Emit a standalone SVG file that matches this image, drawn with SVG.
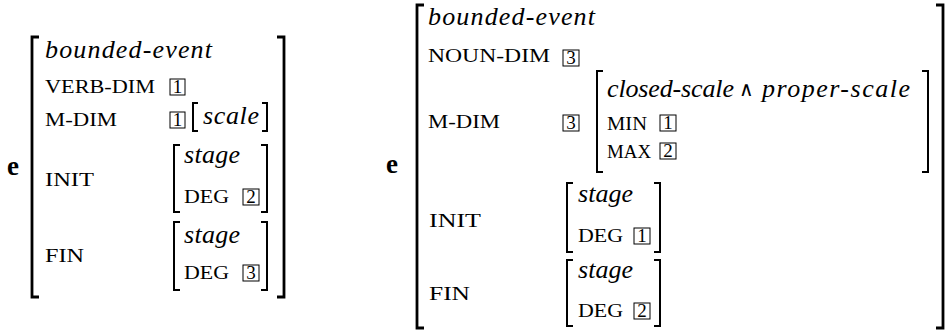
<svg xmlns="http://www.w3.org/2000/svg" width="946" height="331" viewBox="0 0 946 331">
<style>
text{font-family:"Liberation Serif","Times New Roman",serif;fill:#000}
.it{font-style:italic;font-size:26px}
.sc{font-size:19px}
.n{font-size:19px;text-anchor:middle}
.e{font-weight:bold;font-size:27px}
.w{font-family:"DejaVu Serif",serif;font-size:20px}
.ob{fill:none;stroke:#000;stroke-width:2.8}
.ib{fill:none;stroke:#000;stroke-width:2}
.bx{fill:none;stroke:#000;stroke-width:1}
</style>
<rect width="946" height="331" fill="#fff"/>
<g id="avm-left">
<text class="e" x="7" y="175">e</text>
<path class="ob" d="M39,37 H32 V297 H39"/>
<path class="ob" d="M277,37 H284 V297 H277"/>
<text class="it" x="45" y="58" textLength="167">bounded-event</text>
<text class="sc" x="45" y="93" textLength="110" lengthAdjust="spacingAndGlyphs">VERB-DIM</text>
<rect class="bx" x="170" y="79" width="15" height="16"/><text class="n" x="177.5" y="93">1</text>
<text class="sc" x="45" y="126" textLength="72" lengthAdjust="spacingAndGlyphs">M-DIM</text>
<rect class="bx" x="170" y="112" width="15" height="16"/><text class="n" x="177.5" y="126">1</text>
<path class="ib" d="M198,103 H193 V131 H198"/>
<text class="it" x="203" y="124" textLength="56">scale</text>
<path class="ib" d="M262,103 H267 V131 H262"/>
<text class="sc" x="45" y="186" textLength="49" lengthAdjust="spacingAndGlyphs">INIT</text>
<path class="ib" d="M180,145 H174 V212 H180"/>
<path class="ib" d="M261,145 H267 V212 H261"/>
<text class="it" x="184" y="163" textLength="56">stage</text>
<text class="sc" x="184" y="203" textLength="45" lengthAdjust="spacingAndGlyphs">DEG</text>
<rect class="bx" x="243" y="189" width="16" height="16"/><text class="n" x="251" y="203">2</text>
<text class="sc" x="45" y="262" textLength="39" lengthAdjust="spacingAndGlyphs">FIN</text>
<path class="ib" d="M180,222 H174 V290 H180"/>
<path class="ib" d="M261,222 H267 V290 H261"/>
<text class="it" x="184" y="243" textLength="56">stage</text>
<text class="sc" x="184" y="279" textLength="45" lengthAdjust="spacingAndGlyphs">DEG</text>
<rect class="bx" x="243" y="265" width="16" height="16"/><text class="n" x="251" y="279">3</text>
</g>
<g id="avm-right">
<text class="e" x="386" y="173">e</text>
<path class="ob" d="M424,5 H417 V328 H424"/>
<path class="ob" d="M936,5 H943 V328 H936"/>
<text class="it" x="428" y="25" textLength="167">bounded-event</text>
<text class="sc" x="428" y="62" textLength="122" lengthAdjust="spacingAndGlyphs">NOUN-DIM</text>
<rect class="bx" x="563" y="50" width="16" height="16"/><text class="n" x="571" y="64">3</text>
<text class="sc" x="428" y="128" textLength="72" lengthAdjust="spacingAndGlyphs">M-DIM</text>
<rect class="bx" x="563" y="115" width="16" height="16"/><text class="n" x="571" y="129">3</text>
<path class="ib" d="M603,71 H597 V172 H603"/>
<path class="ib" d="M922,71 H928 V172 H922"/>
<text class="it" x="607" y="97" textLength="127">closed-scale</text>
<text class="w" x="739" y="96">∧</text>
<text class="it" x="762" y="97" textLength="148">proper-scale</text>
<text class="sc" x="607" y="130" textLength="40" lengthAdjust="spacingAndGlyphs">MIN</text>
<rect class="bx" x="660" y="115" width="16" height="16"/><text class="n" x="668" y="129">1</text>
<text class="sc" x="607" y="158" textLength="44" lengthAdjust="spacingAndGlyphs">MAX</text>
<rect class="bx" x="660" y="143" width="16" height="16"/><text class="n" x="668" y="157">2</text>
<text class="sc" x="429" y="227" textLength="52" lengthAdjust="spacingAndGlyphs">INIT</text>
<path class="ib" d="M573,183 H567 V252 H573"/>
<path class="ib" d="M654,183 H660 V252 H654"/>
<text class="it" x="578" y="202" textLength="55">stage</text>
<text class="sc" x="578" y="242" textLength="45" lengthAdjust="spacingAndGlyphs">DEG</text>
<rect class="bx" x="634" y="228" width="16" height="16"/><text class="n" x="642" y="242">1</text>
<text class="sc" x="429" y="300" textLength="41" lengthAdjust="spacingAndGlyphs">FIN</text>
<path class="ib" d="M573,260 H567 V326 H573"/>
<path class="ib" d="M654,260 H660 V326 H654"/>
<text class="it" x="578" y="278" textLength="55">stage</text>
<text class="sc" x="578" y="317" textLength="45" lengthAdjust="spacingAndGlyphs">DEG</text>
<rect class="bx" x="634" y="303" width="16" height="16"/><text class="n" x="642" y="317">2</text>
</g>
</svg>
